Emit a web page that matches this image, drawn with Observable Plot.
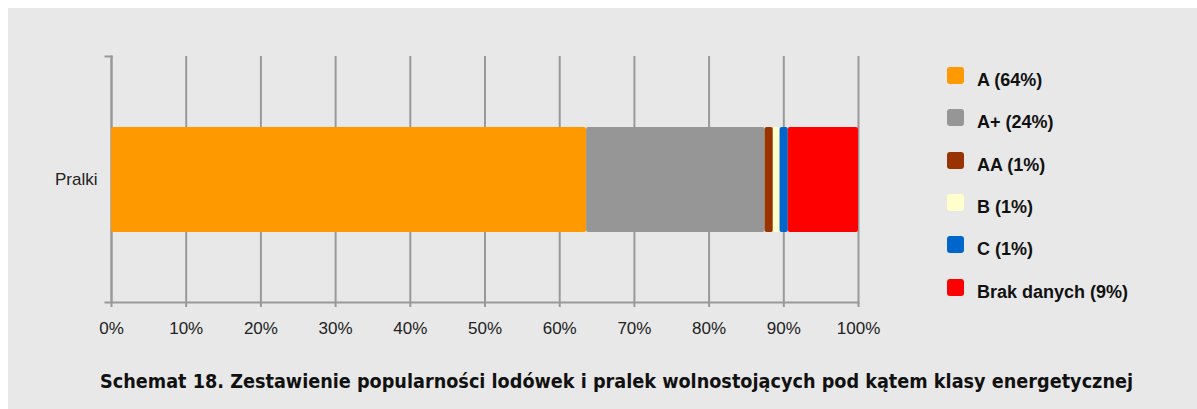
<!DOCTYPE html>
<html>
<head>
<meta charset="utf-8">
<script src="https://cdn.jsdelivr.net/npm/d3@7"></script>
<script src="https://cdn.jsdelivr.net/npm/@observablehq/plot@0.6"></script>
<style>
  html, body { margin: 0; padding: 0; background: #ffffff; }
  #panel { position: absolute; left: 8px; top: 8px; width: 1189px; height: 401px; background: #e8e8e8; overflow: hidden; }
  #chart { position: absolute; left: 0; top: 0; }
  .legend-row { position: absolute; left: 939px; height: 17px; width: 245px; }
  .legend-sw { position: absolute; left: 0; top: 0; width: 17px; height: 17px; border-radius: 3px; }
  .legend-tx { position: absolute; left: 30px; top: 3px; line-height: 18px; font: bold 18px "Liberation Sans", Arial, sans-serif; color: #111; white-space: nowrap; }
  #title { position: absolute; left: 0; top: 0; }
</style>
</head>
<body>
<div id="panel">
  <div id="chart"></div>
  <div id="legend"></div>
  <svg id="title" width="1189" height="401"></svg>
</div>
<script>
// ---- data ----
const categories = ["Pralki"];
const classes = ["A", "A+", "AA", "B", "C", "Brak danych"];
const values = [63.6, 23.9, 1.1, 0.9, 1.1, 9.4];
const legendLabels = ["A (64%)", "A+ (24%)", "AA (1%)", "B (1%)", "C (1%)", "Brak danych (9%)"];
const colors = ["#ff9900", "#969696", "#993300", "#ffffcc", "#0066cc", "#ff0000"];
const xTicks = [0, 10, 20, 30, 40, 50, 60, 70, 80, 90, 100];
const titleText = "Schemat 18. Zestawienie popularności lodówek i pralek wolnostojących pod kątem klasy energetycznej";

const rows = classes.map((c, i) => ({category: categories[0], cls: c, value: values[i]}));

const W = 1189, H = 340;
const mL = 103, mR = 339, mT = 48, mB = 46;
const plotW = W - mL - mR;
const gridColor = "#999999";

const chart = Plot.plot({
  width: W,
  height: H,
  marginLeft: mL,
  marginRight: mR,
  marginTop: mT,
  marginBottom: mB,
  style: {background: "transparent", fontFamily: "'Liberation Sans', Arial, sans-serif", fontSize: "17px", color: "#222"},
  x: {domain: [0, 100]},
  y: {domain: categories, padding: 0.4},
  color: {domain: classes, range: colors},
  marks: [
    Plot.gridX({ticks: xTicks, stroke: gridColor, strokeOpacity: 1, strokeWidth: 2}),
    Plot.frame({anchor: "bottom", stroke: gridColor, strokeWidth: 2, insetLeft: -6}),
    Plot.frame({anchor: "top", stroke: gridColor, strokeWidth: 2, insetLeft: -6, insetRight: plotW}),
    Plot.frame({anchor: "left", stroke: gridColor, strokeWidth: 2}),
    Plot.axisX({ticks: xTicks, tickFormat: d => d + "%", tickSize: 5, tickPadding: 14, stroke: gridColor, strokeWidth: 2, fill: "#222", fontSize: 17, label: null}),
    Plot.axisY({tickSize: 0, tickPadding: 14, fill: "#222", fontSize: 17, label: null}),
    Plot.barX(rows, Plot.stackX({x: "value", y: "category", fill: "cls", rx: 2}))
  ]
});
document.getElementById("chart").appendChild(chart);

// legend
const legend = document.getElementById("legend");
classes.forEach((c, i) => {
  const row = document.createElement("div");
  row.className = "legend-row";
  row.style.top = (59 + i * 42.3) + "px";
  const sw = document.createElement("div");
  sw.className = "legend-sw";
  sw.style.background = colors[i];
  const tx = document.createElement("div");
  tx.className = "legend-tx";
  tx.textContent = legendLabels[i];
  row.appendChild(sw);
  row.appendChild(tx);
  legend.appendChild(row);
});

// title
const tsvg = d3.select("#title");
tsvg.append("text")
  .attr("x", 608.5)
  .attr("y", 380)
  .attr("text-anchor", "middle")
  .attr("textLength", 1033)
  .attr("lengthAdjust", "spacingAndGlyphs")
  .attr("fill", "#111")
  .style("font-family", "'DejaVu Sans Condensed', 'DejaVu Sans', sans-serif")
  .style("font-weight", "bold")
  .style("font-size", "20px")
  .text(titleText);
</script>
</body>
</html>
